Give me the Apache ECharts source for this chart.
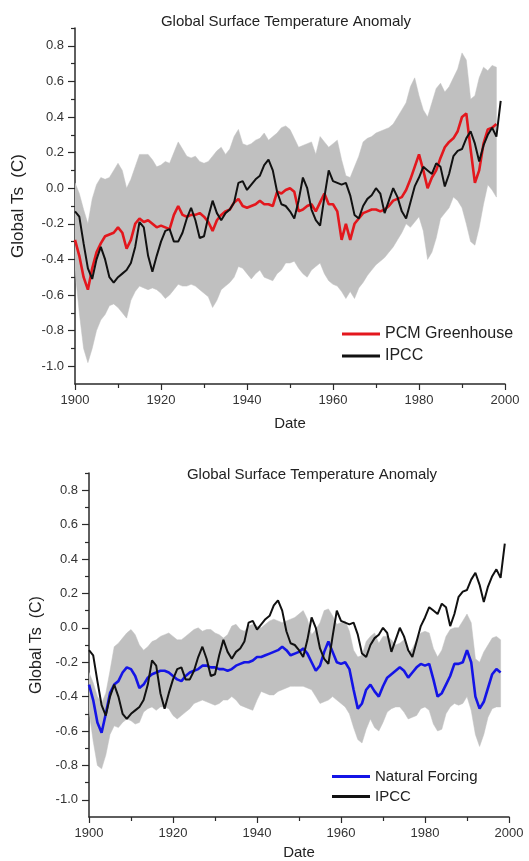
<!DOCTYPE html>
<html>
<head>
<meta charset="utf-8">
<script src="https://cdn.jsdelivr.net/npm/echarts@6/dist/echarts.min.js"></script>
<style>
html,body{margin:0;padding:0;background:#fff;}
#chart{width:529px;height:861px;}
</style>
</head>
<body>
<div id="chart"></div>
<script>
const startYear = 1900;
const titleText = 'Global Surface Temperature Anomaly';
const xTickMin = 1900, xTickMax = 2000, xTickStep = 20;
const yMajorTicks = [-1.0, -0.8, -0.6, -0.4, -0.2, 0.0, 0.2, 0.4, 0.6, 0.8];
const yMinorTicks = [-0.9, -0.7, -0.5, -0.3, -0.1, 0.1, 0.3, 0.5, 0.7, 0.9];

// IPCC observed (1900-1999)
const ipcc = [-0.13,-0.16,-0.31,-0.45,-0.51,-0.40,-0.33,-0.40,-0.50,-0.53,
 -0.50,-0.48,-0.46,-0.42,-0.33,-0.19,-0.22,-0.38,-0.47,-0.38,
 -0.30,-0.24,-0.23,-0.30,-0.30,-0.25,-0.17,-0.11,-0.18,-0.28,
 -0.27,-0.16,-0.07,-0.14,-0.18,-0.14,-0.12,-0.08,0.03,0.04,
 -0.01,0.02,0.05,0.07,0.13,0.16,0.10,-0.02,-0.09,-0.10,
 -0.13,-0.17,-0.07,0.06,0.00,-0.12,-0.18,-0.21,-0.05,0.10,
 0.04,0.03,0.02,0.03,-0.04,-0.15,-0.17,-0.10,-0.06,-0.04,
 0.00,-0.03,-0.14,-0.07,0.00,-0.05,-0.13,-0.17,-0.08,0.01,
 0.06,0.12,0.10,0.08,0.14,0.12,0.01,0.08,0.18,0.21,
 0.22,0.28,0.32,0.25,0.15,0.24,0.30,0.34,0.29,0.49];

// PCM Greenhouse ensemble mean (1900-1998)
const pcm = [-0.29,-0.38,-0.50,-0.57,-0.45,-0.36,-0.31,-0.27,-0.26,-0.25,
 -0.22,-0.25,-0.34,-0.29,-0.20,-0.17,-0.19,-0.18,-0.20,-0.22,
 -0.21,-0.22,-0.23,-0.15,-0.10,-0.15,-0.16,-0.15,-0.15,-0.14,
 -0.16,-0.19,-0.24,-0.18,-0.15,-0.13,-0.12,-0.08,-0.06,-0.10,
 -0.11,-0.10,-0.09,-0.07,-0.09,-0.09,-0.10,-0.02,-0.03,-0.01,
 0.00,-0.02,-0.13,-0.12,-0.10,-0.09,-0.13,-0.08,-0.03,-0.09,
 -0.09,-0.13,-0.29,-0.20,-0.29,-0.20,-0.17,-0.14,-0.13,-0.12,
 -0.12,-0.13,-0.12,-0.10,-0.07,-0.06,-0.05,-0.01,0.05,0.12,
 0.19,0.10,0.00,0.06,0.10,0.17,0.23,0.26,0.28,0.32,
 0.40,0.42,0.22,0.03,0.10,0.25,0.33,0.34,0.36];

// PCM Greenhouse ensemble range (1900-1998)
const pcmHigh = [0.03,-0.03,-0.12,-0.20,-0.06,0.02,0.06,0.05,0.06,0.10,
 0.14,0.10,0.00,0.05,0.12,0.19,0.19,0.19,0.16,0.12,
 0.13,0.15,0.14,0.20,0.26,0.22,0.18,0.17,0.18,0.15,
 0.14,0.15,0.18,0.21,0.23,0.19,0.22,0.29,0.33,0.25,
 0.24,0.25,0.27,0.28,0.31,0.27,0.29,0.31,0.34,0.35,
 0.33,0.28,0.23,0.24,0.25,0.26,0.19,0.29,0.26,0.23,
 0.25,0.27,0.16,0.07,0.06,0.12,0.18,0.26,0.28,0.29,
 0.31,0.32,0.33,0.34,0.36,0.40,0.44,0.48,0.57,0.62,
 0.52,0.44,0.40,0.48,0.56,0.59,0.54,0.57,0.62,0.67,
 0.76,0.72,0.50,0.52,0.62,0.68,0.66,0.69,0.68];
const pcmLow = [-0.46,-0.70,-0.90,-0.98,-0.90,-0.80,-0.74,-0.71,-0.66,-0.65,
 -0.67,-0.70,-0.73,-0.63,-0.58,-0.55,-0.56,-0.57,-0.56,-0.57,
 -0.59,-0.62,-0.60,-0.57,-0.54,-0.55,-0.55,-0.54,-0.55,-0.57,
 -0.59,-0.61,-0.67,-0.63,-0.57,-0.55,-0.53,-0.50,-0.44,-0.45,
 -0.48,-0.51,-0.48,-0.46,-0.50,-0.51,-0.52,-0.48,-0.46,-0.42,
 -0.42,-0.41,-0.45,-0.48,-0.50,-0.46,-0.44,-0.42,-0.48,-0.52,
 -0.54,-0.55,-0.58,-0.62,-0.58,-0.62,-0.56,-0.53,-0.49,-0.46,
 -0.43,-0.41,-0.39,-0.36,-0.33,-0.29,-0.25,-0.20,-0.22,-0.19,
 -0.16,-0.24,-0.40,-0.36,-0.28,-0.17,-0.14,-0.11,-0.05,-0.07,
 -0.11,-0.20,-0.30,-0.32,-0.22,-0.09,0.02,-0.01,-0.05];

// Natural forcing ensemble mean (1900-1998)
const nat = [-0.33,-0.42,-0.55,-0.61,-0.50,-0.38,-0.33,-0.31,-0.26,-0.23,
 -0.24,-0.28,-0.35,-0.33,-0.29,-0.27,-0.26,-0.25,-0.25,-0.26,
 -0.28,-0.30,-0.31,-0.28,-0.26,-0.25,-0.24,-0.22,-0.22,-0.23,
 -0.23,-0.24,-0.24,-0.25,-0.24,-0.22,-0.21,-0.20,-0.20,-0.19,
 -0.17,-0.17,-0.16,-0.15,-0.14,-0.13,-0.11,-0.13,-0.16,-0.15,
 -0.14,-0.12,-0.15,-0.20,-0.25,-0.22,-0.14,-0.08,-0.14,-0.20,
 -0.21,-0.20,-0.24,-0.36,-0.47,-0.44,-0.36,-0.33,-0.37,-0.40,
 -0.34,-0.29,-0.27,-0.25,-0.23,-0.25,-0.29,-0.26,-0.23,-0.21,
 -0.22,-0.21,-0.30,-0.40,-0.38,-0.33,-0.28,-0.21,-0.21,-0.20,
 -0.13,-0.20,-0.40,-0.47,-0.43,-0.35,-0.27,-0.24,-0.26];

// Natural forcing ensemble range (1900-1998)
const natHigh = [-0.26,-0.32,-0.40,-0.44,-0.38,-0.25,-0.11,-0.09,-0.06,-0.03,
 -0.01,-0.04,-0.10,-0.13,-0.11,-0.08,-0.07,-0.05,-0.04,-0.03,
 -0.05,-0.07,-0.07,-0.05,-0.03,-0.01,0.00,-0.02,-0.01,-0.01,
 -0.03,-0.04,-0.06,-0.04,0.01,0.02,-0.01,-0.02,0.01,0.02,
 0.01,0.00,0.02,0.04,0.05,0.04,0.03,0.04,0.05,0.06,
 0.08,0.10,0.05,-0.04,-0.01,0.03,0.10,0.11,0.07,0.02,
 0.03,0.04,-0.02,-0.13,-0.17,-0.16,-0.08,-0.05,-0.03,-0.09,
 -0.05,-0.05,-0.07,-0.10,-0.09,-0.07,-0.15,-0.12,-0.07,-0.03,
 -0.02,-0.03,-0.12,-0.17,-0.13,-0.05,-0.01,0.00,0.00,0.04,
 0.08,0.03,-0.18,-0.20,-0.14,-0.10,-0.06,-0.05,-0.07];
const natLow = [-0.48,-0.66,-0.80,-0.82,-0.74,-0.62,-0.57,-0.58,-0.55,-0.53,
 -0.54,-0.56,-0.55,-0.49,-0.47,-0.46,-0.48,-0.46,-0.46,-0.47,
 -0.51,-0.53,-0.51,-0.49,-0.47,-0.44,-0.43,-0.42,-0.43,-0.44,
 -0.45,-0.44,-0.42,-0.42,-0.40,-0.42,-0.45,-0.46,-0.47,-0.48,
 -0.42,-0.37,-0.38,-0.39,-0.39,-0.37,-0.36,-0.35,-0.34,-0.34,
 -0.34,-0.34,-0.35,-0.36,-0.40,-0.44,-0.43,-0.42,-0.40,-0.42,
 -0.44,-0.46,-0.50,-0.58,-0.65,-0.67,-0.59,-0.53,-0.58,-0.60,
 -0.55,-0.49,-0.47,-0.46,-0.46,-0.49,-0.53,-0.52,-0.51,-0.47,
 -0.46,-0.48,-0.56,-0.60,-0.59,-0.50,-0.46,-0.44,-0.45,-0.44,
 -0.40,-0.48,-0.62,-0.69,-0.62,-0.52,-0.47,-0.46,-0.46];

const FONT = '"Liberation Sans", Arial, sans-serif';
const AX = '#2a2a2a';
const BAND = '#c0c0c0';

function pairs(arr){ return arr.map((v,i)=>[startYear+i, v]); }
function rangeRows(lo, hi){ return lo.map((v,i)=>[startYear+i, v, hi[i]]); }

function xAxisFor(g, nameGap){
  return {
    type:'value', gridIndex:g, min:xTickMin, max:xTickMax, interval:xTickStep,
    axisLine:{show:true, onZero:false, lineStyle:{color:AX, width:1.5}},
    axisTick:{show:true, length:6, lineStyle:{color:AX, width:1.2}},
    minorTick:{show:true, splitNumber:2, length:4, lineStyle:{color:AX, width:1.2}},
    axisLabel:{fontSize:13, color:'#333', margin:10, fontFamily:FONT, formatter:v=>String(v)},
    splitLine:{show:false},
    name:'Date', nameLocation:'middle', nameGap:nameGap,
    nameTextStyle:{fontSize:15, color:'#222', fontFamily:FONT}
  };
}
function yAxesFor(g, nameGap, nameSize){
  return [{
    type:'value', gridIndex:g, min:-1.1, max:0.9, position:'left',
    axisLine:{show:true, onZero:false, lineStyle:{color:AX, width:1.5}},
    axisTick:{show:true, customValues:yMajorTicks, length:7, lineStyle:{color:AX, width:1.2}},
    axisLabel:{customValues:yMajorTicks, fontSize:13, color:'#333', margin:11, fontFamily:FONT, formatter:v=>v.toFixed(1)},
    splitLine:{show:false},
    name:'Global Ts  (C)', nameLocation:'middle', nameGap:nameGap,
    nameTextStyle:{fontSize:nameSize, color:'#222', fontFamily:FONT, padding:[0,0,0,0]}
  },{
    type:'value', gridIndex:g, min:-1.1, max:0.9, position:'left',
    axisLine:{show:false},
    axisTick:{show:true, customValues:yMinorTicks, length:4, lineStyle:{color:AX, width:1.2}},
    axisLabel:{show:false},
    splitLine:{show:false}
  }];
}
function band(g, lo, hi){
  const rows = rangeRows(lo, hi);
  return {
    type:'custom', xAxisIndex:g, yAxisIndex:g*2, data:rows,
    encode:{x:0, y:[1,2]}, silent:true, z:1, clip:true,
    renderItem:function(params, api){
      if (params.dataIndex !== 0) return null;
      const pts = [];
      for (let i = 0; i < rows.length; i++) pts.push(api.coord([rows[i][0], rows[i][2]]));
      for (let i = rows.length - 1; i >= 0; i--) pts.push(api.coord([rows[i][0], rows[i][1]]));
      return {type:'polygon', shape:{points:pts}, style:{fill:BAND, stroke:BAND, lineWidth:0.5}};
    }
  };
}
function lineSeries(g, name, arr, color, width){
  return {
    type:'line', name:name, xAxisIndex:g, yAxisIndex:g*2, data:pairs(arr),
    symbol:'none', lineStyle:{color:color, width:width}, itemStyle:{color:color}, z:3
  };
}
function legendAt(name, left, top, size){
  return {
    data:[name], left:left, top:top, orient:'vertical', padding:0,
    icon:'rect', itemWidth:38, itemHeight:3, itemGap:0, selectedMode:false,
    textStyle:{fontSize:size, color:'#222', fontFamily:FONT, padding:[0,0,0,0]}
  };
}

const chart = echarts.init(document.getElementById('chart'), null, {renderer:'canvas'});
chart.setOption({
  backgroundColor:'#fff',
  animation:false,
  textStyle:{fontFamily:FONT},
  grid:[
    {left:75, top:28, width:430, height:356},
    {left:89, top:473, width:420, height:345}
  ],
  xAxis:[xAxisFor(0, 32), xAxisFor(1, 28)],
  yAxis:[].concat(yAxesFor(0, 48, 17), yAxesFor(1, 44, 16)),
  legend:[
    legendAt('PCM Greenhouse', 342, 326, 16),
    legendAt('IPCC', 342, 348, 16),
    legendAt('Natural Forcing', 332, 769, 15),
    legendAt('IPCC', 332, 789, 15)
  ],
  graphic:[
    {type:'text', x:286, y:22, style:{text:titleText, fill:'#222', font:'15px '+FONT, textAlign:'center', textVerticalAlign:'middle'}},
    {type:'text', x:312, y:475, style:{text:titleText, fill:'#222', font:'15px '+FONT, textAlign:'center', textVerticalAlign:'middle'}}
  ],
  series:[
    band(0, pcmLow, pcmHigh),
    lineSeries(0, 'PCM Greenhouse', pcm, '#e3171d', 2.6),
    lineSeries(0, 'IPCC', ipcc, '#111111', 2.0),
    band(1, natLow, natHigh),
    lineSeries(1, 'Natural Forcing', nat, '#1414e6', 2.6),
    lineSeries(1, 'IPCC', ipcc, '#111111', 2.0)
  ]
});
</script>
</body>
</html>
